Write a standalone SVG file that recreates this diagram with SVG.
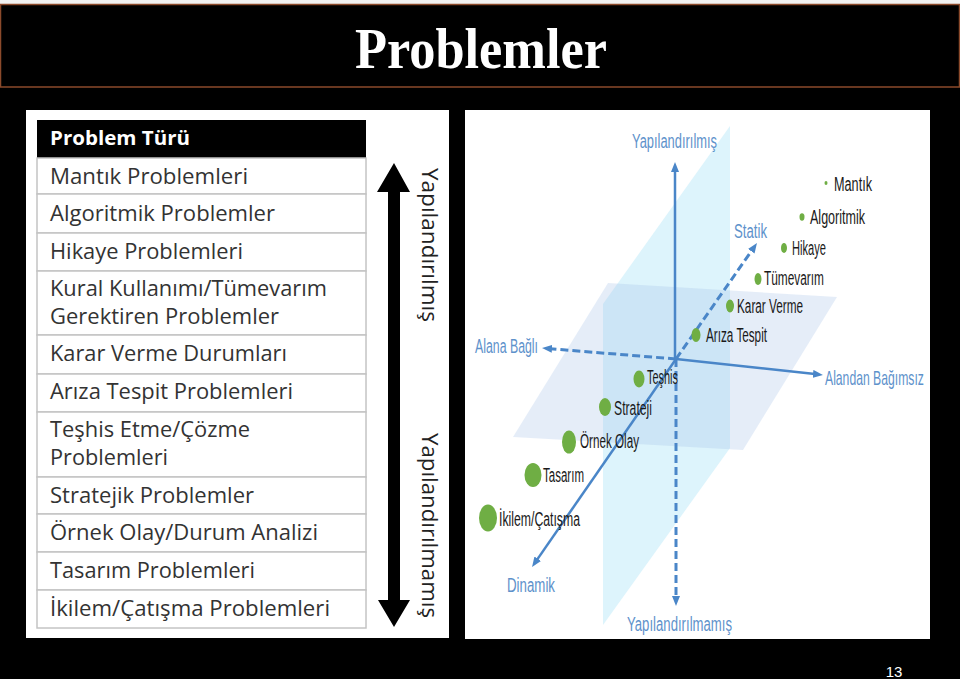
<svg xmlns="http://www.w3.org/2000/svg" width="960" height="679" viewBox="0 0 960 679">
<style>
.cell{fill:#fff;stroke:#c4c4c4;stroke-width:1.5}
.ct{font-family:"Open Sans","Noto Sans",sans-serif;font-size:21px;fill:#333}
.rot{font-family:"Open Sans","Noto Sans",sans-serif;font-size:21px;fill:#222}
.ax{stroke:#4a86c8;stroke-width:2.5;fill:none}
.axd{stroke:#4a86c8;stroke-width:3;fill:none;stroke-dasharray:8 4}
.al{font-family:"Liberation Sans",Arial,sans-serif;font-size:20px;fill:#5e92cb}
.dl{font-family:"Liberation Sans",Arial,sans-serif;font-size:20px;fill:#1a1a1a}
.dot{fill:#6fae44}
</style>
<defs>
<marker id="ah" markerUnits="userSpaceOnUse" markerWidth="10" markerHeight="8" refX="2" refY="4" orient="auto">
<path d="M0,0 L10,4 L0,8 z" fill="#4a86c8"/>
</marker>
</defs>
<rect x="0" y="0" width="960" height="679" fill="#000"/>
<rect x="0" y="0" width="960" height="5" fill="#f2f2f2"/>
<g id="title">
<rect x="0.5" y="4.5" width="959" height="82.5" fill="#000" stroke="#8b4a2b" stroke-width="1.5"/>
<text x="355" y="68" font-family="Liberation Serif,'Times New Roman',serif" font-size="57" font-weight="bold" fill="#fff" textLength="252" lengthAdjust="spacingAndGlyphs">Problemler</text>
</g>
<g id="left-panel">
<rect x="26" y="110" width="423" height="528" fill="#fff"/>
<g id="table">
<rect x="37" y="120" width="329" height="38" fill="#000"/>
<text x="50" y="145" font-family="'Open Sans','Noto Sans',sans-serif" font-size="19" font-weight="bold" fill="#fff" textLength="140" lengthAdjust="spacingAndGlyphs">Problem Türü</text>
<g id="row1"><rect class="cell" x="37" y="158" width="329" height="36"/><text class="ct" x="50" y="184" textLength="198" lengthAdjust="spacingAndGlyphs">Mantık Problemleri</text></g>
<g id="row2"><rect class="cell" x="37" y="194" width="329" height="39"/><text class="ct" x="50" y="221" textLength="225" lengthAdjust="spacingAndGlyphs">Algoritmik Problemler</text></g>
<g id="row3"><rect class="cell" x="37" y="233" width="329" height="38"/><text class="ct" x="50" y="259" textLength="193" lengthAdjust="spacingAndGlyphs">Hikaye Problemleri</text></g>
<g id="row4"><rect class="cell" x="37" y="271" width="329" height="64"/><text class="ct" x="50" y="296" textLength="277" lengthAdjust="spacingAndGlyphs">Kural Kullanımı/Tümevarım</text><text class="ct" x="50" y="324" textLength="229" lengthAdjust="spacingAndGlyphs">Gerektiren Problemler</text></g>
<g id="row5"><rect class="cell" x="37" y="335" width="329" height="39"/><text class="ct" x="50" y="361" textLength="237" lengthAdjust="spacingAndGlyphs">Karar Verme Durumları</text></g>
<g id="row6"><rect class="cell" x="37" y="374" width="329" height="38"/><text class="ct" x="50" y="399" textLength="243" lengthAdjust="spacingAndGlyphs">Arıza Tespit Problemleri</text></g>
<g id="row7"><rect class="cell" x="37" y="412" width="329" height="65"/><text class="ct" x="50" y="437" textLength="200" lengthAdjust="spacingAndGlyphs">Teşhis Etme/Çözme</text><text class="ct" x="50" y="465" textLength="118" lengthAdjust="spacingAndGlyphs">Problemleri</text></g>
<g id="row8"><rect class="cell" x="37" y="477" width="329" height="37"/><text class="ct" x="50" y="503" textLength="204" lengthAdjust="spacingAndGlyphs">Stratejik Problemler</text></g>
<g id="row9"><rect class="cell" x="37" y="514" width="329" height="38"/><text class="ct" x="50" y="540" textLength="268" lengthAdjust="spacingAndGlyphs">Örnek Olay/Durum Analizi</text></g>
<g id="row10"><rect class="cell" x="37" y="552" width="329" height="38"/><text class="ct" x="50" y="578" textLength="205" lengthAdjust="spacingAndGlyphs">Tasarım Problemleri</text></g>
<g id="row11"><rect class="cell" x="37" y="590" width="329" height="38"/><text class="ct" x="50" y="616" textLength="280" lengthAdjust="spacingAndGlyphs">İkilem/Çatışma Problemleri</text></g>
</g>
<g id="scale-arrow">
<polygon points="394,163 410,192 400,192 400,600 410,600 394,627 378,600 388,600 388,192 377,192" fill="#000"/>
</g>
<g id="scale-labels">
<text class="rot" transform="translate(422,168) rotate(90)" textLength="154" lengthAdjust="spacingAndGlyphs">Yapılandırılmış</text>
<text class="rot" transform="translate(422,433) rotate(90)" textLength="185" lengthAdjust="spacingAndGlyphs">Yapılandırılmamış</text>
</g>
</g>
<g id="right-panel">
<rect x="465" y="110" width="465" height="529" fill="#fff"/>
<g id="planes">
<polygon id="vertical-plane" points="730,126 730,448 603,625 603,304" fill="#ddf4fc"/>
<polygon id="horizontal-plane" points="608,283 837,297 743,450 513,437" fill="#a0bee6" fill-opacity="0.27"/>
</g>
<g id="connectors">
<line class="ax" x1="675" y1="359" x2="675" y2="170" marker-end="url(#ah)"/>
<line class="axd" x1="676" y1="359" x2="676" y2="598" marker-end="url(#ah)"/>
<line class="axd" x1="676" y1="359" x2="550" y2="348.7" marker-end="url(#ah)"/>
<line class="ax" x1="676" y1="359" x2="815" y2="374.1" marker-end="url(#ah)"/>
<line class="axd" x1="676" y1="359" x2="752.4" y2="249.6" marker-end="url(#ah)"/>
<line class="ax" x1="676" y1="359" x2="536.6" y2="560.4" marker-end="url(#ah)"/>
</g>
<g id="axis-labels">
<text class="al" x="632" y="148" textLength="85" lengthAdjust="spacingAndGlyphs">Yapılandırılmış</text>
<text class="al" x="734" y="238" textLength="33" lengthAdjust="spacingAndGlyphs">Statik</text>
<text class="al" x="475" y="353" textLength="63" lengthAdjust="spacingAndGlyphs">Alana Bağlı</text>
<text class="al" transform="translate(825,385) scale(0.61,1)">Alandan Bağımsız</text>
<text class="al" x="507" y="592" textLength="48" lengthAdjust="spacingAndGlyphs">Dinamik</text>
<text class="al" x="627" y="631" textLength="105" lengthAdjust="spacingAndGlyphs">Yapılandırılmamış</text>
</g>
<g id="n-mantik"><ellipse class="dot" cx="826" cy="183" rx="1.5" ry="2"/><text class="dl" x="834" y="191" textLength="38" lengthAdjust="spacingAndGlyphs">Mantık</text></g>
<g id="n-algoritmik"><ellipse class="dot" cx="802" cy="217" rx="2.5" ry="3.7"/><text class="dl" x="810" y="224" textLength="55" lengthAdjust="spacingAndGlyphs">Algoritmik</text></g>
<g id="n-hikaye"><ellipse class="dot" cx="784" cy="248" rx="3" ry="5"/><text class="dl" x="792" y="255" textLength="34" lengthAdjust="spacingAndGlyphs">Hikaye</text></g>
<g id="n-tumevarim"><ellipse class="dot" cx="758" cy="279" rx="3.5" ry="6"/><text class="dl" x="764" y="285" textLength="60" lengthAdjust="spacingAndGlyphs">Tümevarım</text></g>
<g id="n-karar"><ellipse class="dot" cx="730" cy="306" rx="4" ry="6.5"/><text class="dl" x="737" y="313" textLength="66" lengthAdjust="spacingAndGlyphs">Karar Verme</text></g>
<g id="n-ariza"><ellipse class="dot" cx="696" cy="335" rx="4.5" ry="7"/><text class="dl" x="706" y="342" textLength="61" lengthAdjust="spacingAndGlyphs">Arıza Tespit</text></g>
<g id="n-teshis"><ellipse class="dot" cx="639" cy="379" rx="5.5" ry="8.5"/><text class="dl" x="647" y="384" textLength="31" lengthAdjust="spacingAndGlyphs">Teşhis</text></g>
<g id="n-strateji"><ellipse class="dot" cx="605" cy="407" rx="6" ry="9"/><text class="dl" x="614" y="415" textLength="38" lengthAdjust="spacingAndGlyphs">Strateji</text></g>
<g id="n-ornek"><ellipse class="dot" cx="569" cy="442" rx="7" ry="11.5"/><text class="dl" x="580" y="448" textLength="59" lengthAdjust="spacingAndGlyphs">Örnek Olay</text></g>
<g id="n-tasarim"><ellipse class="dot" cx="533" cy="475" rx="8.5" ry="12"/><text class="dl" x="543" y="482" textLength="41" lengthAdjust="spacingAndGlyphs">Tasarım</text></g>
<g id="n-ikilem"><ellipse class="dot" cx="488" cy="518" rx="9" ry="13.5"/><text class="dl" x="499" y="526" textLength="81" lengthAdjust="spacingAndGlyphs">İkilem/Çatışma</text></g>
</g>
<text x="894" y="677" text-anchor="middle" font-family="'Liberation Sans',Arial,sans-serif" font-size="15" fill="#fff">13</text>
</svg>
